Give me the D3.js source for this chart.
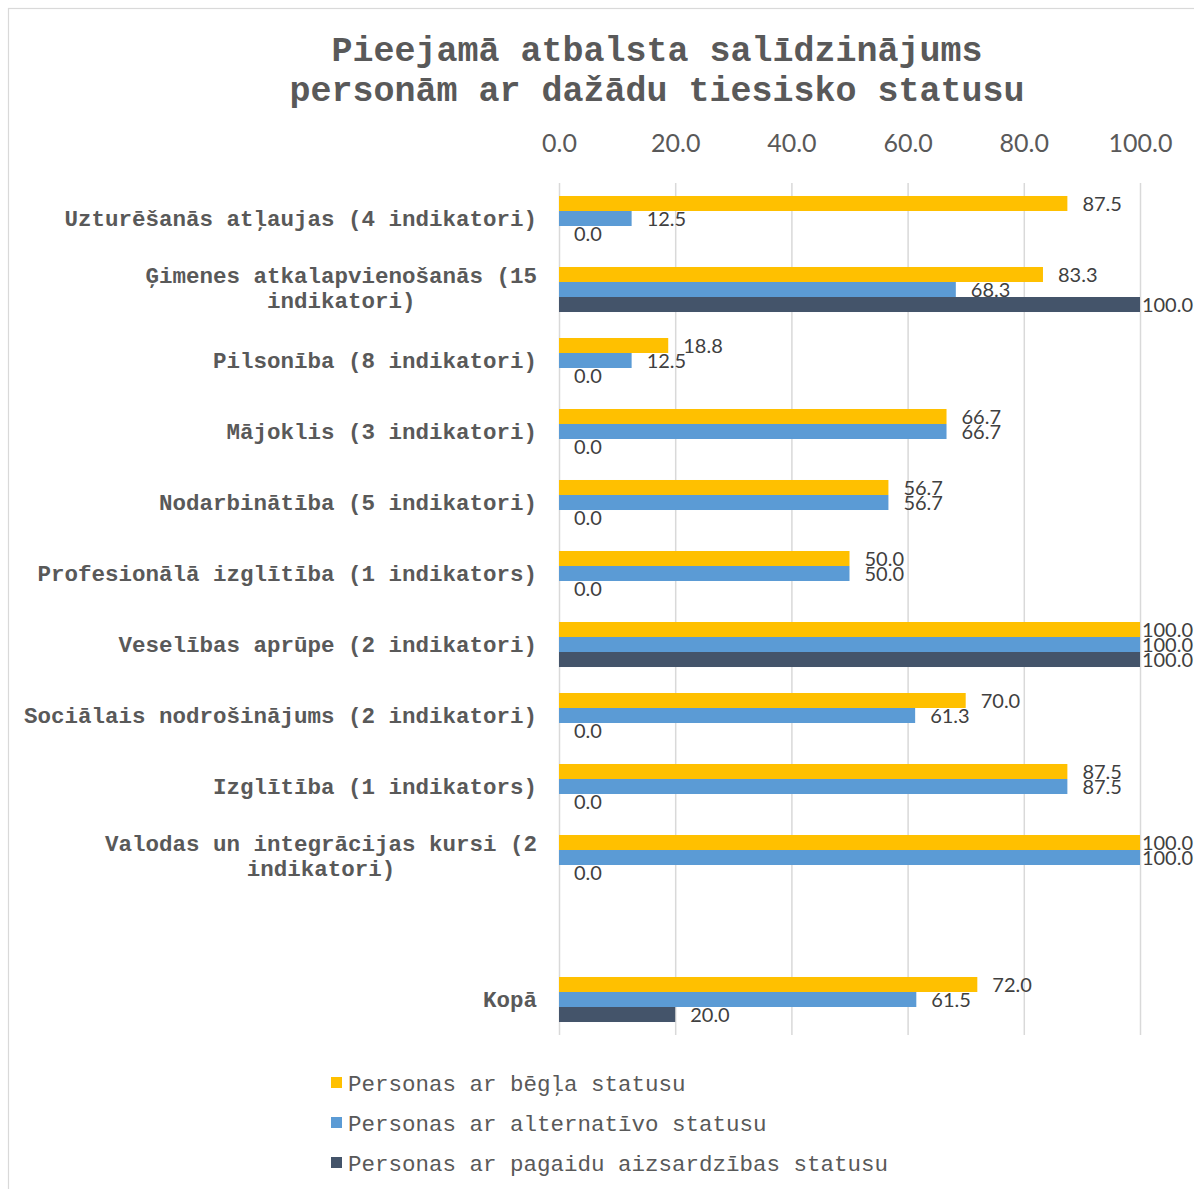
<!DOCTYPE html>
<html>
<head>
<meta charset="utf-8">
<script src="https://cdn.jsdelivr.net/npm/d3@7"></script>
<style>
  html, body { margin: 0; padding: 0; background: #fff; }
  svg { display: block; }
</style>
</head>
<body>
<svg id="chart" width="1194" height="1189"></svg>
<script>
// Support areas and overall total
const categories = [
  "Uzturēšanās atļaujas (4 indikatori)",
  "Ģimenes atkalapvienošanās (15 indikatori)",
  "Pilsonība (8 indikatori)",
  "Mājoklis (3 indikatori)",
  "Nodarbinātība (5 indikatori)",
  "Profesionālā izglītība (1 indikators)",
  "Veselības aprūpe (2 indikatori)",
  "Sociālais nodrošinājums (2 indikatori)",
  "Izglītība (1 indikators)",
  "Valodas un integrācijas kursi (2 indikatori)",
  "",
  "Kopā"
];

const seriesNames = [
  "Personas ar bēgļa statusu",
  "Personas ar alternatīvo statusu",
  "Personas ar pagaidu aizsardzības statusu"
];

const refugeeValues     = [87.5, 83.3, 18.8, 66.7, 56.7, 50.0, 100.0, 70.0, 87.5, 100.0, null, 72.0];
const alternativeValues = [12.5, 68.3, 12.5, 66.7, 56.7, 50.0, 100.0, 61.3, 87.5, 100.0, null, 61.5];
const temporaryValues   = [0.0, 100.0, 0.0, 0.0, 0.0, 0.0, 100.0, 0.0, 0.0, 0.0, null, 20.0];

const tickValues = [0, 20, 40, 60, 80, 100];

const titleLines = [
  "Pieejamā atbalsta salīdzinājums",
  "personām ar dažādu tiesisko statusu"
];

const colors = ["#FFC000", "#5B9BD5", "#44546A"];
const seriesValues = [refugeeValues, alternativeValues, temporaryValues];

const svg = d3.select("#chart");
const W = 1194;

// chart frame
svg.append("rect")
  .attr("x", 8.5).attr("y", 8.5)
  .attr("width", 1220).attr("height", 1220)
  .attr("fill", "#fff")
  .attr("stroke", "#d9d9d9")
  .attr("stroke-width", 1.2);

const mono = "'Liberation Mono', 'Courier New', monospace";
const sans = "Lato, 'Open Sans', sans-serif";

// title
svg.append("g").selectAll("text")
  .data(titleLines)
  .join("text")
  .attr("x", 657)
  .attr("y", (d, i) => 61 + i * 40)
  .attr("text-anchor", "middle")
  .attr("font-family", mono)
  .attr("font-weight", "bold")
  .attr("font-size", 35)
  .attr("fill", "#595959")
  .text(d => d);

const plotTop = 183, plotBottom = 1035;

const x = d3.scaleLinear().domain([0, 100]).range([559, 1140]);

const y = d3.scaleBand()
  .domain(d3.range(categories.length))
  .range([plotTop, plotBottom])
  .paddingInner(0.366)
  .paddingOuter(0.183);

const ySub = d3.scaleBand()
  .domain(d3.range(seriesNames.length))
  .range([0, y.bandwidth()]);

// top value axis with vertical gridlines
const axis = d3.axisTop(x)
  .tickValues(tickValues)
  .tickFormat(d3.format(".1f"))
  .tickSizeInner(-(plotBottom - plotTop))
  .tickSizeOuter(0)
  .tickPadding(31);

const axisG = svg.append("g")
  .attr("transform", `translate(0,${plotTop})`)
  .call(axis);
axisG.select(".domain").remove();
axisG.selectAll(".tick line")
  .attr("stroke", "#d9d9d9")
  .attr("stroke-width", 1.5);
axisG.selectAll(".tick text")
  .attr("font-family", sans)
  .attr("font-size", 25)
  .attr("fill", "#595959");

// bars
const barG = svg.append("g");
seriesValues.forEach((vals, s) => {
  const pts = vals.map((v, i) => ({ v, i })).filter(d => d.v !== null);
  barG.append("g").selectAll("rect")
    .data(pts)
    .join("rect")
    .attr("x", x(0))
    .attr("y", d => y(d.i) + ySub(s))
    .attr("width", d => x(d.v) - x(0))
    .attr("height", ySub.bandwidth())
    .attr("fill", colors[s]);
});

// value labels
const labelG = svg.append("g");
seriesValues.forEach((vals, s) => {
  const pts = vals.map((v, i) => ({ v, i })).filter(d => d.v !== null);
  labelG.append("g").selectAll("text")
    .data(pts)
    .join("text")
    .attr("y", d => y(d.i) + ySub(s) + ySub.bandwidth() / 2)
    .attr("dy", "0.36em")
    .attr("font-family", sans)
    .attr("font-size", 20)
    .attr("fill", "#404040")
    .text(d => d.v.toFixed(1))
    .attr("x", function (d) {
      const w = this.getComputedTextLength();
      return Math.min(x(d.v) + 15, W - w - 1);
    });
});

// category labels, wrapped to fit the label column
const maxLabelWidth = 520;
const labelRight = 537;
const lineHeight = 25;
const catG = svg.append("g");
categories.forEach((c, i) => {
  if (!c) return;
  const t = catG.append("text")
    .attr("font-family", mono)
    .attr("font-weight", "bold")
    .attr("font-size", 22.5)
    .attr("fill", "#595959");
  // greedy word wrap
  const words = c.split(" ");
  const lines = [];
  let line = [];
  const probe = t.append("tspan");
  words.forEach(w => {
    const test = line.concat([w]).join(" ");
    probe.text(test);
    if (probe.node().getComputedTextLength() > maxLabelWidth && line.length) {
      lines.push(line.join(" "));
      line = [w];
    } else {
      line.push(w);
    }
  });
  lines.push(line.join(" "));
  probe.remove();

  const widths = lines.map(l => { const p = t.append("tspan").text(l); const w = p.node().getComputedTextLength(); p.remove(); return w; });
  const blockW = d3.max(widths);
  const cx = labelRight - blockW / 2;
  const yc = y(i) + y.bandwidth() / 2;
  const y0 = yc - (lines.length - 1) * lineHeight / 2 - 1.5 * (lines.length - 1);
  lines.forEach((l, k) => {
    t.append("tspan")
      .attr("x", cx)
      .attr("y", y0 + k * lineHeight)
      .attr("dy", "0.35em")
      .attr("text-anchor", "middle")
      .text(l);
  });
});

// legend
const legend = svg.append("g");
seriesNames.forEach((n, s) => {
  const yc = 1083 + s * 40;
  legend.append("rect")
    .attr("x", 331).attr("y", yc - 6)
    .attr("width", 11).attr("height", 11)
    .attr("fill", colors[s]);
  legend.append("text")
    .attr("x", 348).attr("y", yc)
    .attr("dy", "0.35em")
    .attr("font-family", mono)
    .attr("font-size", 22.5)
    .attr("fill", "#595959")
    .text(n);
});
</script>
</body>
</html>
